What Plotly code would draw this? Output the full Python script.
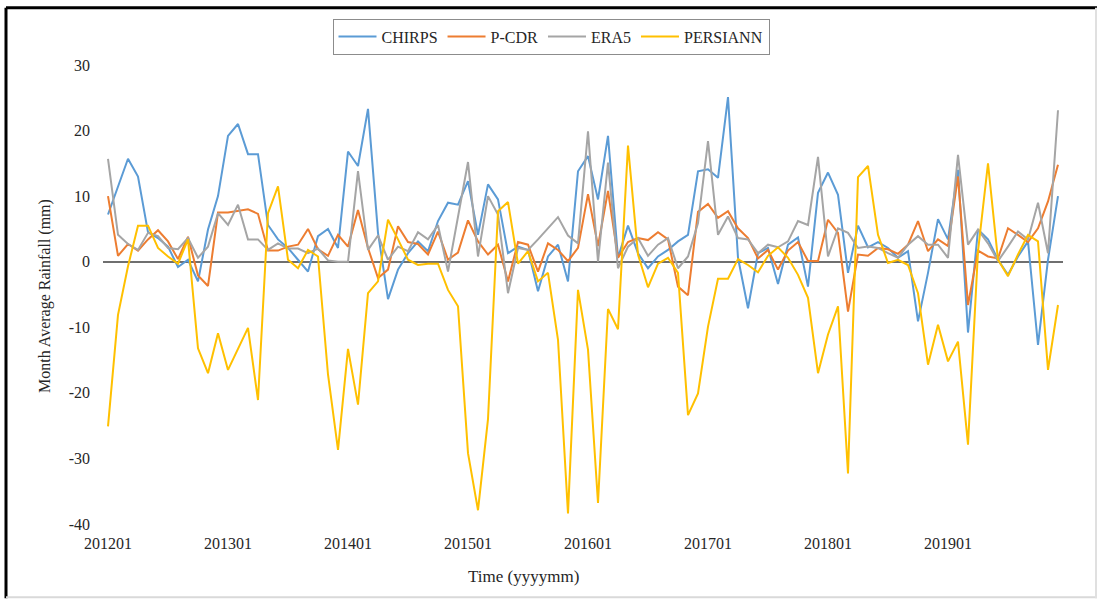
import plotly.graph_objects as go

# Months 2012-01 .. 2019-12 as yyyymm category labels
months = [f"{y}{m:02d}" for y in range(2012, 2020) for m in range(1, 13)]
tick_labels = ["201201", "201301", "201401", "201501", "201601", "201701", "201801", "201901"]
y_ticks = [-40, -30, -20, -10, 0, 10, 20, 30]
y_tick_text = ["-40", "-30", "-20", "-10", "0", "10", "20", "30"]

chirps = [7.2, 11.5, 15.7, 13.0, 4.5, 3.6, 2.3, -0.8, 0.3, -3.0, 4.9, 10.0,
          19.2, 21.0, 16.4, 16.4, 5.6, 3.4, 2.1, 0.3, -1.5, 3.9, 5.0, 2.1,
          16.8, 14.6, 23.3, 4.4, -5.7, -1.2, 1.3, 3.1, 1.6, 6.2, 9.0, 8.7,
          12.3, 4.1, 11.8, 9.5, 1.3, 2.3, 1.8, -4.5, 0.8, 2.6, -3.0, 13.8,
          16.1, 9.5, 19.2, 0.6, 5.5, 1.3, -1.0, 0.8, 1.8, 3.1, 4.1, 13.8,
          14.1, 12.8, 25.1, 0.6, -7.1, 1.3, 2.1, -3.4, 2.6, 3.7, -3.8, 10.5,
          13.6, 10.2, -1.7, 5.5, 2.2, 3.0, 2.1, 0.6, 1.6, -9.1, -1.7, 6.5,
          3.4, 14.0, -10.8, 4.9, 3.4, 0.3, -2.0, 0.8, 3.1, -12.7, 0.3, 10.0]

pcdr = [10.0, 0.9, 2.7, 1.7, 3.4, 4.8, 3.1, 0.4, 3.8, -2.1, -3.7, 7.5,
        7.5, 7.8, 8.0, 7.3, 1.7, 1.7, 2.3, 2.6, 5.0, 1.9, 0.9, 4.1,
        2.3, 7.9, 2.1, -2.5, -1.2, 5.4, 3.0, 2.7, 1.1, 4.6, 0.3, 1.4,
        6.3, 3.1, 1.1, 2.6, -3.0, 3.0, 2.6, -1.5, 2.8, 1.8, 0.1, 2.1,
        10.3, 2.4, 10.8, 0.6, 3.0, 3.6, 3.3, 4.5, 3.4, -3.8, -5.1, 7.6,
        8.8, 6.7, 7.7, 5.1, 3.6, 0.5, 1.8, -1.2, 1.7, 3.0, 0.1, 0.1,
        6.4, 4.4, -7.6, 1.1, 0.9, 2.1, 1.9, 1.2, 2.6, 6.2, 1.6, 3.4,
        2.4, 13.0, -6.6, 1.7, 0.8, 0.5, 5.1, 4.1, 3.0, 5.1, 9.2, 14.8]

era5 = [15.7, 4.1, 2.7, 1.8, 4.4, 3.9, 2.1, 1.9, 3.6, 0.6, 2.3, 7.4,
        5.6, 8.7, 3.4, 3.4, 1.8, 2.8, 2.0, 2.0, 1.3, 2.0, 0.2, 0.0,
        0.0, 13.8, 1.8, 4.0, 0.3, 2.3, 1.6, 4.5, 3.4, 5.6, -1.5, 6.9,
        15.2, 0.8, 10.0, 7.2, -4.8, 2.1, 1.8, 3.4, 5.1, 6.8, 4.0, 2.8,
        19.9, 0.0, 15.1, -1.0, 2.3, 3.6, 0.9, 2.6, 3.6, -1.0, 0.8, 5.9,
        18.4, 4.1, 6.9, 3.6, 3.4, 1.3, 2.6, 2.2, 3.1, 6.2, 5.6, 16.0,
        0.8, 5.1, 4.4, 2.1, 2.3, 2.1, 1.3, 0.6, 2.6, 3.9, 2.6, 2.6,
        0.6, 16.3, 2.6, 4.9, 2.8, 0.1, 2.3, 4.6, 3.4, 9.0, 1.3, 23.1]

persiann = [-25.1, -8.1, -0.7, 5.5, 5.5, 2.1, 0.8, -0.3, 3.4, -13.2, -17.0, -10.9,
            -16.5, -13.4, -10.1, -21.1, 7.4, 11.5, 0.3, -1.0, 1.8, 0.8, -17.2, -28.7,
            -13.3, -21.8, -4.8, -3.0, 6.4, 3.4, 0.3, -0.5, -0.3, -0.3, -4.3, -6.8,
            -29.2, -37.9, -24.0, 7.7, 9.1, -0.3, 1.6, -3.0, -1.7, -11.9, -38.4, -4.3,
            -13.4, -36.8, -7.2, -10.3, 17.7, 1.1, -3.9, -0.3, 0.6, -1.7, -23.4, -20.1,
            -9.9, -2.6, -2.6, 0.4, -0.5, -1.6, 0.9, 2.2, 0.6, -2.0, -5.5, -17.0,
            -11.1, -6.8, -32.3, 12.9, 14.6, 4.1, -0.2, 0.3, -0.5, -4.8, -15.7, -9.6,
            -15.2, -12.2, -27.9, 1.6, 15.0, 0.3, -2.2, 1.1, 4.1, 3.1, -16.5, -6.6]

series = [
    ("CHIRPS", chirps, "#5B9BD5"),
    ("P-CDR", pcdr, "#ED7D31"),
    ("ERA5", era5, "#A5A5A5"),
    ("PERSIANN", persiann, "#FFC000"),
]

FONT = "Liberation Serif, Times New Roman, serif"
TXT = "#262626"

fig = go.Figure()
for name, vals, color in series:
    fig.add_trace(go.Scatter(x=months, y=vals, name=name, mode="lines",
                             line=dict(color=color, width=2)))

# plot-area geometry in pixels (used for the outer frame and titles)
L, R, T, B = 103, 1063, 64.5, 524.5
W, H = R - L, B - T
def px(x):
    return (x - L) / W
def py(y):
    return (B - y) / H

shapes = [
    dict(type="line", xref="paper", yref="paper", x0=px(6), x1=px(1097), y0=py(7), y1=py(7),
         line=dict(color="black", width=3)),
    dict(type="line", xref="paper", yref="paper", x0=px(6), x1=px(6), y0=py(7), y1=py(599),
         line=dict(color="black", width=3)),
    dict(type="line", xref="paper", yref="paper", x0=px(6), x1=px(1097), y0=py(598), y1=py(598),
         line=dict(color="#d9d9d9", width=2)),
    dict(type="line", xref="paper", yref="paper", x0=px(1096), x1=px(1096), y0=py(7), y1=py(599),
         line=dict(color="#e0e0e0", width=2)),
]

annotations = [
    dict(text="Month Average Rainfall (mm)", xref="paper", yref="paper",
         x=px(45), y=py(296), textangle=-90, showarrow=False,
         font=dict(family=FONT, size=16, color=TXT), xanchor="center", yanchor="middle"),
    dict(text="Time (yyyymm)", xref="paper", yref="paper",
         x=px(523), y=py(577), showarrow=False,
         font=dict(family=FONT, size=17, color=TXT), xanchor="center", yanchor="middle"),
]

fig.update_layout(
    width=1097, height=599,
    margin=dict(l=L, r=1097 - R, t=T, b=599 - B),
    paper_bgcolor="white", plot_bgcolor="white",
    font=dict(family=FONT, size=16, color=TXT),
    showlegend=True,
    legend=dict(orientation="h", x=px(551), y=py(18), xanchor="center", yanchor="top",
                bordercolor="#8c8c8c", borderwidth=1, bgcolor="white",
                font=dict(family=FONT, size=16, color=TXT), itemwidth=38,
                tracegroupgap=0),
    shapes=shapes,
    annotations=annotations,
    xaxis=dict(type="category", categoryorder="array", categoryarray=months,
               range=[-0.5, len(months) - 0.5],
               tickvals=tick_labels, ticktext=tick_labels,
               showgrid=False, showline=False, zeroline=False, ticks="",
               ticklabelstandoff=8,
               tickfont=dict(family=FONT, size=16, color=TXT)),
    yaxis=dict(range=[-40, 30], tickvals=y_ticks, ticktext=y_tick_text,
               showgrid=False, showline=False, ticks="",
               zeroline=True, zerolinecolor="#6f6f6f", zerolinewidth=1.5,
               ticklabelstandoff=12,
               tickfont=dict(family=FONT, size=16, color=TXT)),
)

fig.write_html("out.html")
